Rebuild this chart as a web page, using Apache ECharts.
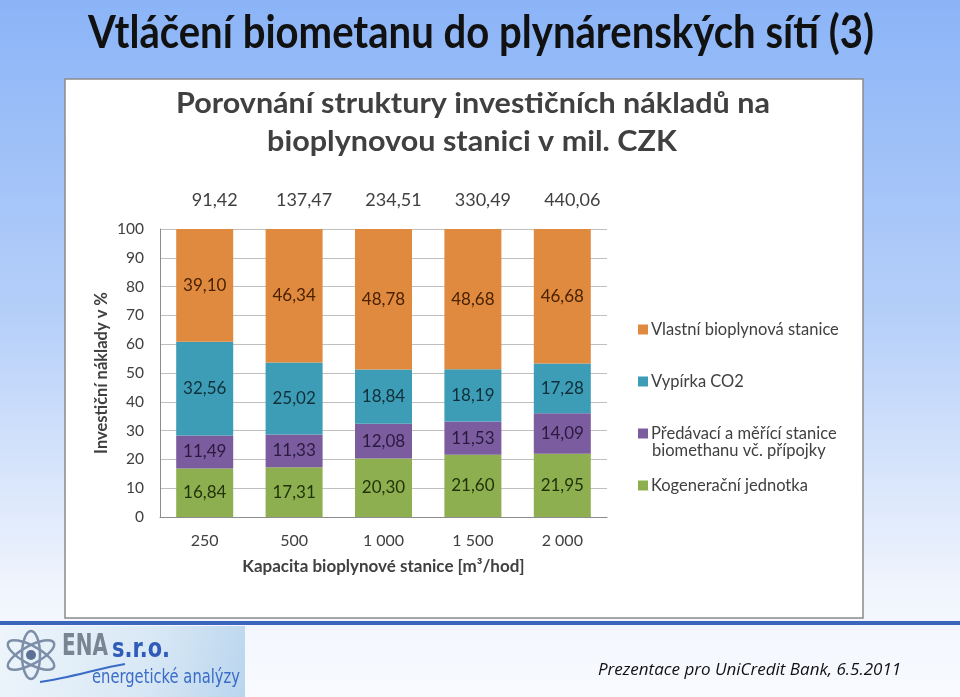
<!DOCTYPE html>
<html><head><meta charset="utf-8">
<script src="https://cdn.jsdelivr.net/npm/echarts@6/dist/echarts.min.js"></script>
<style>html,body{margin:0;padding:0;background:#fff}#c{width:960px;height:697px}</style>
</head><body><div id="c"></div>
<script>
const categories = ['250', '500', '1 000', '1 500', '2 000'];
const totals = ['91,42', '137,47', '234,51', '330,49', '440,06'];
const kogeneracni = [16.84, 17.31, 20.30, 21.60, 21.95];
const predavaci = [11.49, 11.33, 12.08, 11.53, 14.09];
const vypirka = [32.56, 25.02, 18.84, 18.19, 17.28];
const vlastni = [39.10, 46.34, 48.78, 48.68, 46.68];
const yTicks = [0, 100, 10];

const names = ['Kogenerační jednotka', 'Předávací a měřící stanice\nbiomethanu vč. přípojky', 'Vypírka CO2', 'Vlastní bioplynová stanice'];
const colors = ['#8eaf4f', '#7b5c9e', '#3d9db6', '#e08a3f'];
const labelColors = ['#22330a', '#2a1a40', '#0f2f3a', '#4a2200'];
const seriesData = [kogeneracni, predavaci, vypirka, vlastni];

const chartFont = 'Lato';
const fmt = v => v.toFixed(2).replace('.', ',');
const ctx = document.createElement('canvas').getContext('2d');
function fitScale(text, font, width) { ctx.font = font; return width / ctx.measureText(text).width; }

const chart = echarts.init(document.getElementById('c'));

const series = seriesData.map((d, i) => ({
  name: names[i],
  type: 'bar',
  stack: 'total',
  data: d,
  barWidth: 57,
  itemStyle: { color: colors[i] },
  label: {
    show: true, position: 'inside', formatter: p => fmt(p.value),
    color: labelColors[i], fontFamily: chartFont, fontSize: 17
  }
}));

const legendTops = [316, 368, 420, 472];
const legendOrder = [3, 2, 1, 0];
const legends = legendOrder.map((si, k) => ({
  data: [names[si]],
  left: 633, top: legendTops[k],
  itemWidth: 10, itemHeight: 10, itemGap: 0,
  icon: 'rect',
  formatter: n => n.split('\n')[0],
  textStyle: { fontFamily: chartFont, fontSize: 16.5, color: '#404040', padding: [0, 0, 0, -2] },
  selectedMode: false
}));

const slideTitle = 'Vtláčení biometanu do plynárenských sítí (3)';
const tFont = 'bold 46px Lato';
const ct1 = 'Porovnání struktury investičních nákladů na';
const ct2 = 'bioplynovou stanici v mil. CZK';
const cFont = 'bold 28px Lato';
const ct1s = fitScale(ct1, cFont, 594);

chart.setOption({
  animation: false,
  graphic: [
    { type: 'rect', z: -10, shape: { x: 0, y: 0, width: 960, height: 697 },
      style: { fill: new echarts.graphic.LinearGradient(0, 0, 0, 1, [
        { offset: 0, color: '#8bb4f7' }, { offset: 0.45, color: '#b5cff9' },
        { offset: 0.85, color: '#f1f5fd' }, { offset: 1, color: '#f8fafe' }]) } },
    { type: 'rect', z: -9, shape: { x: 65, y: 79, width: 798, height: 539 },
      style: { fill: '#ffffff', stroke: '#8a8a8a', lineWidth: 1.5 } },
    { type: 'rect', z: -9, shape: { x: 0, y: 621, width: 960, height: 4 },
      style: { fill: '#3b66bb' } },
    { type: 'rect', z: -9, shape: { x: 0, y: 626, width: 245, height: 71 },
      style: { fill: new echarts.graphic.LinearGradient(0, 0, 1, 1, [
        { offset: 0, color: '#eef5fb' }, { offset: 0.6, color: '#d8e8f5' }, { offset: 1, color: '#b9d5ee' }]) } },
    { type: 'text', x: 481, y: 33, z: 5, scaleX: fitScale(slideTitle, tFont, 786),
      style: { text: slideTitle, font: tFont, fill: '#111', textAlign: 'center', textVerticalAlign: 'middle' } },
    { type: 'text', x: 473, y: 104, z: 5, scaleX: ct1s,
      style: { text: ct1, font: cFont, fill: '#404040', textAlign: 'center', textVerticalAlign: 'middle' } },
    { type: 'text', x: 472, y: 142, z: 5, scaleX: ct1s,
      style: { text: ct2, font: cFont, fill: '#404040', textAlign: 'center', textVerticalAlign: 'middle' } },
    { type: 'text', left: 652, top: 442, z: 5,
      style: { text: 'biomethanu vč. přípojky', font: '16.5px Lato', fill: '#404040' } },
    { type: 'text', left: 598, top: 662, z: 5,
      style: { text: 'Prezentace pro UniCredit Bank, 6.5.2011', font: 'italic 17px "Open Sans"', fill: '#111' } },
    // logo
    { type: 'ellipse', z: 3, shape: { cx: 31, cy: 655, rx: 26, ry: 9 }, rotation: 0.5, originX: 31, originY: 655,
      style: { fill: 'none', stroke: '#7d8fa8', lineWidth: 2.5 } },
    { type: 'ellipse', z: 3, shape: { cx: 31, cy: 655, rx: 26, ry: 9 }, rotation: -0.5, originX: 31, originY: 655,
      style: { fill: 'none', stroke: '#7d8fa8', lineWidth: 2.5 } },
    { type: 'ellipse', z: 3, shape: { cx: 31, cy: 655, rx: 9, ry: 24 },
      style: { fill: 'none', stroke: '#7d8fa8', lineWidth: 2.5 } },
    { type: 'circle', z: 3, shape: { cx: 31, cy: 655, r: 5 }, style: { fill: '#5d7196' } },
    { type: 'text', z: 4, x: 62, y: 662, scaleX: fitScale('ENA', 'bold 30px "DejaVu Sans"', 46),
      style: { text: 'ENA', font: 'bold 30px "DejaVu Sans"', fill: '#7a8594', textVerticalAlign: 'bottom' } },
    { type: 'text', z: 4, x: 112, y: 663, scaleX: fitScale('s.r.o.', 'bold 26px "DejaVu Sans"', 58),
      style: { text: 's.r.o.', font: 'bold 26px "DejaVu Sans"', fill: '#2e5cb8', textVerticalAlign: 'bottom' } },
    { type: 'text', z: 4, x: 92, y: 678, scaleX: fitScale('energetické analýzy', '20px "DejaVu Sans"', 148),
      style: { text: 'energetické analýzy', font: '20px "DejaVu Sans"', fill: '#3a6bc6', textVerticalAlign: 'middle' } },
    { type: 'bezierCurve', z: 3, shape: { x1: 40, y1: 682, x2: 125, y2: 664, cpx1: 70, cpy1: 678, cpx2: 100, cpy2: 668 },
      style: { stroke: '#3a6bc6', lineWidth: 2, fill: 'none' } }
  ],
  legend: legends,
  grid: { left: 160, right: 353, top: 229, bottom: 180 },
  xAxis: [
    { type: 'category', data: categories, position: 'bottom',
      axisLine: { lineStyle: { color: '#8c8c8c' } }, axisTick: { show: false },
      axisLabel: { fontFamily: chartFont, fontSize: 16, color: '#404040', margin: 16 },
      name: 'Kapacita bioplynové stanice [m³/hod]', nameLocation: 'middle', nameGap: 41,
      nameTextStyle: { fontFamily: chartFont, fontSize: 17, fontWeight: 'bold', color: '#404040' } },
    { type: 'category', data: totals, position: 'top',
      axisLine: { show: false }, axisTick: { show: false },
      axisLabel: { fontFamily: chartFont, fontSize: 18, color: '#404040', margin: 20, padding: [0, 0, 0, 20] } }
  ],
  yAxis: { type: 'value', min: yTicks[0], max: yTicks[1], interval: yTicks[2],
    axisLine: { show: true, lineStyle: { color: '#8c8c8c' } }, axisTick: { show: false },
    splitLine: { lineStyle: { color: '#bfbfbf' } },
    axisLabel: { fontFamily: chartFont, fontSize: 15.5, color: '#404040', margin: 16 },
    name: 'Investiční náklady v %', nameLocation: 'middle', nameGap: 50,
    nameTextStyle: { fontFamily: chartFont, fontSize: 16.5, fontWeight: 'bold', color: '#404040' } },
  series: series
});
</script></body></html>
